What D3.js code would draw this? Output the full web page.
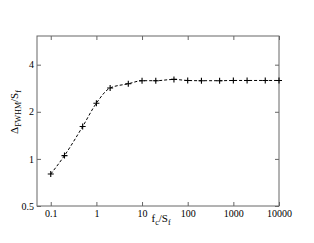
<!DOCTYPE html>
<html><head><meta charset="utf-8">
<script src="https://cdn.jsdelivr.net/npm/d3@7"></script>
<style>body{margin:0;background:#fff}svg{display:block}</style>
</head><body>
<svg id="c" width="314" height="243"></svg>
<script>
const fc = [0.1, 0.2, 0.5, 1, 2, 5, 10, 20, 50, 100, 200, 500, 1000, 2000, 5000, 10000];
const delta = [0.80, 1.05, 1.61, 2.27, 2.84, 3.02, 3.16, 3.16, 3.22, 3.17, 3.16, 3.16, 3.17, 3.17, 3.17, 3.17];
const xTicks = [0.1, 1, 10, 100, 1000, 10000];
const xTickLabels = ["0.1", "1", "10", "100", "1000", "10000"];
const yTicks = [0.5, 1, 2, 4];
const yTickLabels = ["0.5", "1", "2", "4"];
const yMinor = [0.75, 1.5, 3, 5];

const L = 37, R = 279, T = 36, B = 206;
const x = d3.scaleLog().domain([0.05, 10000]).range([L, R]);
const y = d3.scaleLog().domain([0.5, 6.1]).range([B, T]);
const svg = d3.select("#c");
const font = "'Liberation Serif', 'Times New Roman', serif";
const axisCol = "#666";

const xMinor = [];
for (let e = -2; e <= 3; e++) for (let k = 2; k <= 9; k++) { const v = k * Math.pow(10, e); if (v >= 0.05 && v <= 10000) xMinor.push(v); }

function axisGen(axis, scale, vals, size, fmt) {
  return axis(scale).tickValues(vals).tickSize(size).tickSizeOuter(0).tickFormat(fmt || "");
}
// bottom
const gB = svg.append("g").attr("transform", `translate(0,${B})`);
gB.call(axisGen(d3.axisTop, x, xMinor, 2));
gB.call(axisGen(d3.axisTop, x, xTicks, 4));
svg.append("g").attr("transform", `translate(0,${B})`)
  .call(d3.axisBottom(x).tickValues(xTicks).tickSize(0).tickPadding(4).tickFormat((d, i) => xTickLabels[i]));
// top
const gT = svg.append("g").attr("transform", `translate(0,${T})`);
gT.call(axisGen(d3.axisBottom, x, xMinor, 2));
gT.call(axisGen(d3.axisBottom, x, xTicks, 4));
// left
const gL = svg.append("g").attr("transform", `translate(${L},0)`);
gL.call(axisGen(d3.axisRight, y, yMinor, 2));
gL.call(axisGen(d3.axisRight, y, yTicks, 4));
svg.append("g").attr("transform", `translate(${L},0)`)
  .call(d3.axisLeft(y).tickValues(yTicks).tickSize(0).tickPadding(3).tickFormat((d, i) => yTickLabels[i]));
// right
const gR = svg.append("g").attr("transform", `translate(${R},0)`);
gR.call(axisGen(d3.axisLeft, y, yMinor, 2));
gR.call(axisGen(d3.axisLeft, y, yTicks, 4));

svg.selectAll(".domain").remove();
svg.selectAll(".tick line").attr("stroke", axisCol);
svg.selectAll(".tick text").attr("font-family", font).attr("font-size", 10).attr("fill", "#000");

svg.append("rect").attr("x", L).attr("y", T).attr("width", R - L).attr("height", B - T)
  .attr("fill", "none").attr("stroke", axisCol).attr("stroke-width", 1);

const pts = fc.map((f, i) => [x(f), y(delta[i])]);
svg.append("path").attr("d", d3.line().curve(d3.curveMonotoneX)(pts))
  .attr("fill", "none").attr("stroke", "#000").attr("stroke-width", 1).attr("stroke-dasharray", "3,2");

svg.append("g").selectAll("path.m").data(pts).join("path")
  .attr("d", d => `M${d[0]-3},${d[1]}H${d[0]+3}M${d[0]},${d[1]-3}V${d[1]+3}`)
  .attr("stroke", "#000").attr("stroke-width", 1.1);

// x label
const xl = svg.append("text").attr("x", 161).attr("y", 222).attr("text-anchor", "middle")
  .attr("font-family", font).attr("font-size", 11);
xl.append("tspan").text("f");
xl.append("tspan").attr("font-size", 8).attr("dy", 3).text("c");
xl.append("tspan").attr("dy", -3).text("/S");
xl.append("tspan").attr("font-size", 8).attr("dy", 3).text("f");

const yl = svg.append("text").attr("transform", "translate(18,112) rotate(-90)").attr("text-anchor", "middle")
  .attr("font-family", font).attr("font-size", 11);
yl.append("tspan").text("Δ");
yl.append("tspan").attr("font-size", 8).attr("dy", 3).text("FWHM");
yl.append("tspan").attr("dy", -3).text("/S");
yl.append("tspan").attr("font-size", 8).attr("dy", 3).text("f");
</script>
</body></html>
